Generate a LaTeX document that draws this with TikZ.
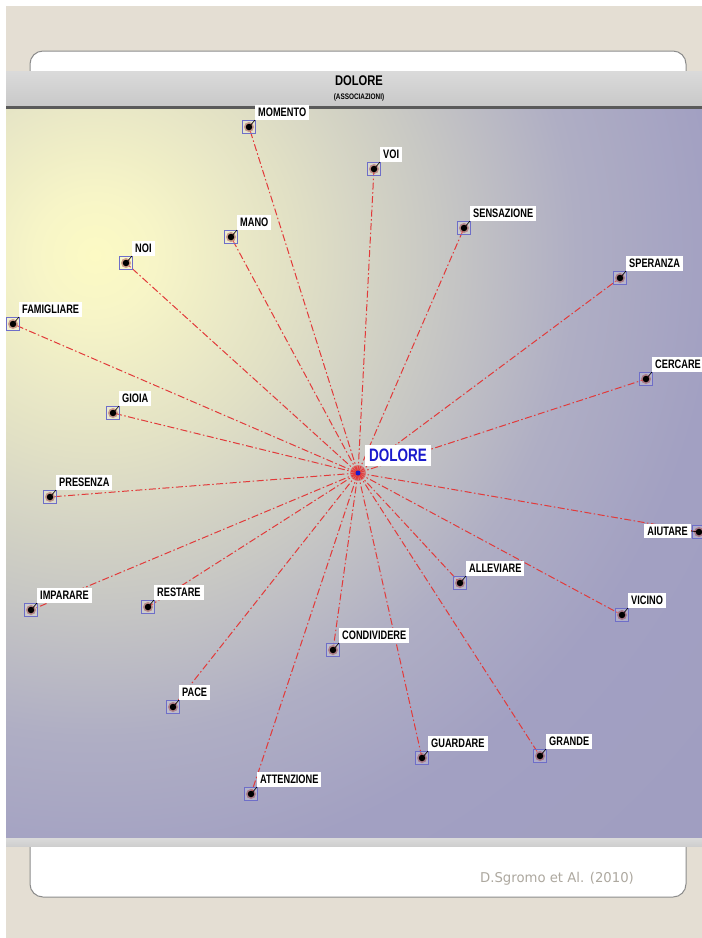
\documentclass[tikz,border=0pt]{standalone}
\usepackage{fontspec}
\newfontfamily\lblfont{Liberation Sans}[FakeStretch=0.75]
\newfontfamily\ttlfont{Liberation Sans}[FakeStretch=0.8]
\newfontfamily\ftfont{DejaVu Sans}[FakeStretch=0.98]
\definecolor{beige}{HTML}{E4DED3}
\definecolor{panelborder}{HTML}{8C8C8C}
\definecolor{hdrTop}{HTML}{DADADA}
\definecolor{hdrBot}{HTML}{C9C9C9}
\definecolor{hdrLine}{HTML}{5A5A5A}
\definecolor{bg0}{HTML}{FCFAC4}
\definecolor{bg1}{HTML}{F7F5C7}
\definecolor{bg2}{HTML}{E1E0C5}
\definecolor{bg3}{HTML}{C8C8C4}
\definecolor{bg4}{HTML}{AFAEC4}
\definecolor{bg5}{HTML}{A2A0C2}
\definecolor{bg6}{HTML}{9E9CC0}
\definecolor{assocred}{HTML}{E23A3A}
\definecolor{sqblue}{HTML}{6E6EC8}
\definecolor{halored}{HTML}{A03838}
\definecolor{centerblue}{HTML}{1A1ACC}
\definecolor{foot}{HTML}{ADA89F}
\pgfdeclareradialshading{plotbg}{\pgfpointorigin}{color(0bp)=(bg0); color(60bp)=(bg1); color(200bp)=(bg2); color(340bp)=(bg3); color(480bp)=(bg4); color(620bp)=(bg5); color(1000bp)=(bg6)}
\begin{document}
\begin{tikzpicture}[x=1pt,y=-1pt,
  pt/.style={circle,inner sep=0pt,minimum size=0pt},
  assoc/.style={assocred,line width=1pt,dash pattern=on 7pt off 2.5pt on 1.5pt off 2.5pt},
  sqbox/.style={draw=sqblue,fill=white,fill opacity=0.15,line width=0.8pt,minimum size=13pt,inner sep=0pt},
  halo/.style={circle,fill=halored,fill opacity=0.45,minimum size=10pt,inner sep=0pt},
  blackdot/.style={circle,fill=black,minimum size=6.5pt,inner sep=0pt},
  tick/.style={black,line width=0.6pt},
  lbl/.style={fill=white,inner xsep=3pt,inner ysep=3pt,text height=8.8pt,text depth=0pt,
    font=\lblfont\bfseries\fontsize{12.3}{12.3}\selectfont}
]
\useasboundingbox (0,0) rectangle (702,938);
\fill[white] (0,0) rectangle (702,938);
\fill[beige] (6,6) rectangle (702,938);
% panel
\draw[panelborder,line width=1pt,fill=white,rounded corners=13pt] (30,51) rectangle (686,897);
% header band
\shade[top color=hdrTop,bottom color=hdrBot] (6,71) rectangle (702,106);
\fill[hdrLine] (6,106) rectangle (702,109);
\node[font=\ttlfont\bfseries\fontsize{14}{14}\selectfont,inner sep=0pt] (title) at (359,81) {DOLORE};
\node[font=\ttlfont\bfseries\fontsize{8}{8}\selectfont,inner sep=0pt] (subtitle) at (359,97) {(ASSOCIAZIONI)};
% plot area
\begin{scope}
\clip (6,109) rectangle (702,838);
\node[inner sep=0pt,outer sep=0pt] (bgshade) at (95,255) {\pgfuseshading{plotbg}};
\end{scope}
\shade[top color=hdrTop,bottom color=hdrBot!90!white] (6,838) rectangle (702,846);
% footer
\node[font=\ftfont\fontsize{13.5}{13.5}\selectfont,text=foot,inner sep=0pt] (footer) at (557,879) {D.Sgromo et Al. (2010)};
% centre
\node[pt] (c) at (358,473) {};
\foreach \n/\x/\y in {MOMENTO/249/127, VOI/374/169, SENSAZIONE/464/228, SPERANZA/620/278,
  CERCARE/646/379, NOI/126/263, MANO/231/237, FAMIGLIARE/13/324, GIOIA/113/413,
  PRESENZA/50/497, IMPARARE/31/610, RESTARE/148/607, ALLEVIARE/460/583, VICINO/622/615,
  CONDIVIDERE/333/650, PACE/173/707, ATTENZIONE/251/794, GUARDARE/422/758, GRANDE/540/756,
  AIUTARE/699/532}{
  \node[pt] (d\n) at (\x,\y) {};
  \draw[assoc] (c) -- (d\n);
}
\foreach \n in {MOMENTO, VOI, SENSAZIONE, SPERANZA, CERCARE, NOI, MANO, FAMIGLIARE, GIOIA,
  PRESENZA, IMPARARE, RESTARE, ALLEVIARE, VICINO, CONDIVIDERE, PACE, ATTENZIONE, GUARDARE, GRANDE}{
  \node[sqbox] (s\n) at (d\n) {};
  \node[halo] (h\n) at (d\n) {};
  \node[lbl,anchor=south west] (l\n) at ([shift={(6,-7)}]d\n.center) {\n};
  \draw[tick] (d\n.center) -- (l\n.south west);
  \node[blackdot] (b\n) at (d\n) {};
}
% AIUTARE (label on the left)
\node[sqbox] (sAIUTARE) at (dAIUTARE) {};
\node[halo] (hAIUTARE) at (dAIUTARE) {};
\node[lbl,anchor=east] (lAIUTARE) at ([shift={(-8,-1)}]dAIUTARE.center) {AIUTARE};
\draw[tick] (dAIUTARE.center) -- (lAIUTARE.east);
\node[blackdot] (bAIUTARE) at (dAIUTARE) {};
% centre marker
\node[circle,fill=assocred,fill opacity=0.55,minimum size=16pt,inner sep=0pt] (cglow) at (c) {};
\node[circle,fill=centerblue,minimum size=5pt,inner sep=0pt] (cdot) at (c) {};
\node[fill=white,anchor=south west,inner xsep=4pt,inner ysep=4pt,text height=13pt,text depth=0pt,
  text=centerblue,font=\lblfont\bfseries\fontsize{18}{18}\selectfont] (lDOLORE) at ([shift={(7,-7)}]c.center) {DOLORE};
\end{tikzpicture}
\end{document}
